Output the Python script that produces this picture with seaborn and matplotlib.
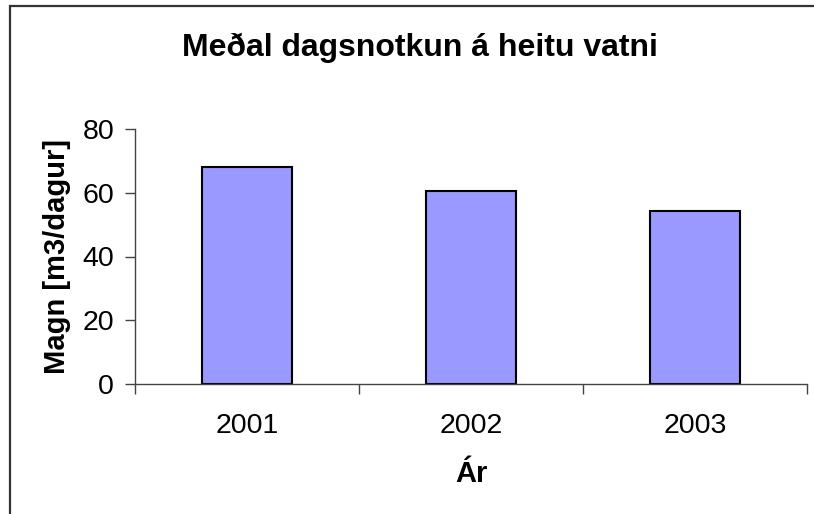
import matplotlib
matplotlib.use("Agg")
import matplotlib.pyplot as plt
import seaborn as sns
import pandas as pd
from matplotlib.patches import Rectangle

# -----------------------------
# Data
# -----------------------------
years = ["2001", "2002", "2003"]
usage = [68.1, 60.6, 54.4]

title = "Meðal dagsnotkun á heitu vatni"
xlabel = "Ár"
ylabel = "Magn [m3/dagur]"
yticks = [0, 20, 40, 60, 80]

df = pd.DataFrame({"year": years, "usage": usage})

# -----------------------------
# Style
# -----------------------------
sns.set_style("white")
plt.rcParams["font.family"] = ["Liberation Sans", "DejaVu Sans"]
plt.rcParams["text.color"] = "black"
plt.rcParams["axes.labelcolor"] = "black"

fig = plt.figure(figsize=(8.14, 5.14), dpi=100)
ax = fig.add_axes([135 / 814, 1 - 384 / 514, (807 - 135) / 814, (384 - 129) / 514])

sns.barplot(data=df, x="year", y="usage", ax=ax, color="#9999FF",
            edgecolor="black", linewidth=1.5, width=0.4, saturation=1)

ax.set_ylim(0, 80)
ax.set_xlim(-0.5, len(years) - 0.5)
ax.set_yticks(yticks)
ax.set_yticklabels([str(t) for t in yticks])

# category boundaries get the tick marks, labels sit in the middle
ax.set_xticks([i - 0.5 for i in range(len(years) + 1)], minor=True)
ax.tick_params(axis="x", which="minor", bottom=True, length=7, width=1,
               color="#444444", direction="out")
ax.tick_params(axis="x", which="major", bottom=True, length=0, pad=21,
               labelsize=20.5, labelcolor="black")
ax.tick_params(axis="y", left=True, length=7, width=1, color="#444444",
               direction="out", pad=8, labelsize=20.5, labelcolor="black")

for side in ["top", "right"]:
    ax.spines[side].set_visible(False)
for side in ["left", "bottom"]:
    ax.spines[side].set_color("#444444")
    ax.spines[side].set_linewidth(1)

ax.set_xlabel(xlabel, fontsize=21, fontweight="bold", labelpad=15)
ax.set_ylabel(ylabel, fontsize=21, fontweight="bold", labelpad=8)

fig.text(420 / 814, 1 - 56 / 514, title, ha="center", va="baseline",
         fontsize=23, fontweight="bold")

# chart area frame (only the left and top edges are inside the picture)
fig.add_artist(Rectangle((10 / 814, -0.1), 1.2, 1 - 6.5 / 514 + 0.1,
                         transform=fig.transFigure, fill=False,
                         edgecolor="#333333", linewidth=1.6))

fig.savefig("out.png", dpi=100, facecolor="white")
